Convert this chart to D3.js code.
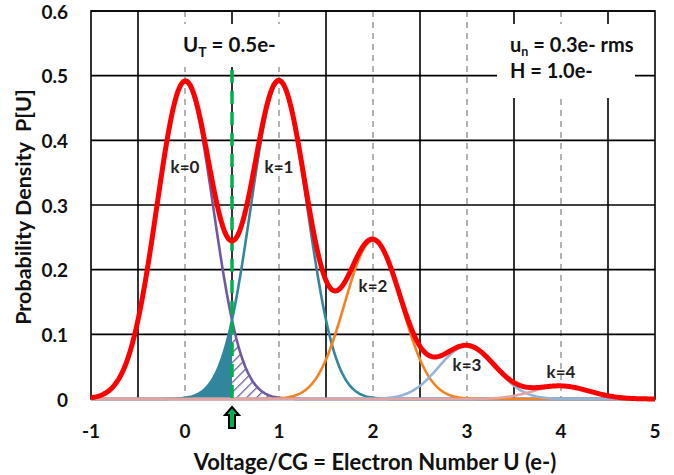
<!DOCTYPE html>
<html>
<head>
<meta charset="utf-8">
<script src="https://cdn.jsdelivr.net/npm/d3@7"></script>
<style>
  html, body { margin: 0; padding: 0; background: #fff; }
  svg { display: block; font-family: Lato, "Open Sans", sans-serif; }
</style>
</head>
<body>
<svg id="chart" width="674" height="475"></svg>
<script>
// Electron-number components k = 0..4: peak probability density of each
const components = ["k=0", "k=1", "k=2", "k=3", "k=4"];
const centers = [0, 1, 2, 3, 4];
const peakDensity = [0.49, 0.49, 0.245, 0.082, 0.02];
const componentColors = ["#6E5AA0", "#31869E", "#F5821F", "#95B3D7", "#E3A3A2"];
const readNoise = 0.3;      // u_n, e- rms
const threshold = 0.5;      // U_T, e-
const xTicks = [-1, 0, 1, 2, 3, 4, 5];
const yTicks = [0, 0.1, 0.2, 0.3, 0.4, 0.5, 0.6];
const xDomain = [-1, 5];
const yDomain = [0, 0.6];

const svg = d3.select("#chart");
const x = d3.scaleLinear().domain(xDomain).range([91, 655]);
const y = d3.scaleLinear().domain(yDomain).range([399, 11]);

// Gaussian read-noise peak around each integer electron number
const xs = d3.range(xDomain[0], xDomain[1] + 0.0001, 0.01);
const comp = (i, u) => peakDensity[i] * Math.exp(-0.5 * ((u - centers[i]) / readNoise) ** 2);
const series = peakDensity.map((_, i) => xs.map(u => [u, comp(i, u)]));
const total = xs.map(u => [u, d3.sum(peakDensity, (_, i) => comp(i, u))]);

const line = d3.line().x(d => x(d[0])).y(d => y(d[1]));
const area = d3.area().x(d => x(d[0])).y0(y(0)).y1(d => y(d[1]));

// hatch pattern for the k=0 tail beyond threshold
const defs = svg.append("defs");
const pat = defs.append("pattern").attr("id", "hatch").attr("patternUnits", "userSpaceOnUse")
  .attr("width", 7).attr("height", 7).attr("patternTransform", "rotate(45)");
pat.append("rect").attr("width", 7).attr("height", 7).attr("fill", "#fff");
pat.append("line").attr("x1", 0).attr("y1", 0).attr("x2", 0).attr("y2", 7)
  .attr("stroke", componentColors[0]).attr("stroke-width", 2.6);

// grid: solid lines at half-integers, dashed at integers
const g = svg.append("g");
d3.range(-0.5, 5, 1).forEach(v => {
  g.append("line").attr("x1", x(v)).attr("x2", x(v)).attr("y1", y(0.6)).attr("y2", y(0))
    .attr("stroke", "#000").attr("stroke-width", 1.6);
});
xTicks.slice(1, -1).forEach(v => {
  g.append("line").attr("x1", x(v)).attr("x2", x(v)).attr("y1", y(0.6)).attr("y2", y(0))
    .attr("stroke", "#8a8a8a").attr("stroke-width", 1.3).attr("stroke-dasharray", "6,5");
});
yTicks.slice(1).forEach(v => {
  g.append("line").attr("x1", x(-1)).attr("x2", x(5)).attr("y1", y(v)).attr("y2", y(v))
    .attr("stroke", "#000").attr("stroke-width", 1.6);
});
g.append("rect").attr("x", x(-1)).attr("y", y(0.6)).attr("width", x(5) - x(-1)).attr("height", y(0) - y(0.6))
  .attr("fill", "none").attr("stroke", "#000").attr("stroke-width", 1.6);

// white boxes behind annotations
svg.append("rect").attr("x", 168).attr("y", 24).attr("width", 140).attr("height", 43).attr("fill", "#fff");
svg.append("rect").attr("x", 497).attr("y", 24).attr("width", 138).attr("height", 74).attr("fill", "#fff");

// shaded error areas
svg.append("path").datum(series[1].filter(d => d[0] <= threshold + 1e-9))
  .attr("d", area).attr("fill", componentColors[1]);
svg.append("path").datum(series[0].filter(d => d[0] >= threshold - 1e-9 && d[0] <= 1.6))
  .attr("d", area).attr("fill", "url(#hatch)");

// baseline (higher-order components)
svg.append("line").attr("x1", x(-1)).attr("x2", x(5)).attr("y1", y(0)).attr("y2", y(0))
  .attr("stroke", "#95B3D7").attr("stroke-width", 3);

// component curves
series.forEach((s, i) => {
  svg.append("path").datum(s).attr("d", line).attr("fill", "none")
    .attr("stroke", componentColors[i]).attr("stroke-width", 2.6);
});

// threshold marker
svg.append("line").attr("x1", x(threshold)).attr("x2", x(threshold)).attr("y1", 70).attr("y2", y(0))
  .attr("stroke", "#00B050").attr("stroke-width", 3.5).attr("stroke-dasharray", "13,8");

// total density
svg.append("path").datum(total).attr("d", line).attr("fill", "none")
  .attr("stroke", "#FF0000").attr("stroke-width", 5).attr("stroke-linejoin", "round");

// component labels
const labelPos = [[0, 0.36], [1, 0.36], [2, 0.176], [3, 0.053], [4, 0.042]];
components.forEach((t, i) => {
  svg.append("text").attr("x", x(labelPos[i][0])).attr("y", y(labelPos[i][1]))
    .attr("text-anchor", "middle").attr("dominant-baseline", "central")
    .attr("font-size", 17).attr("font-weight", 700).attr("fill", "#222").text(t);
});

// annotations
const ut = svg.append("text").attr("x", 183).attr("y", 52).attr("font-size", 20.5).attr("font-weight", 700).attr("fill", "#111");
ut.append("tspan").text("U");
ut.append("tspan").attr("font-size", 14).attr("dy", 5).text("T");
ut.append("tspan").attr("dy", -5).text(" = 0.5e-");

const un = svg.append("text").attr("x", 510).attr("y", 52).attr("font-size", 20).attr("font-weight", 700).attr("fill", "#111");
un.append("tspan").text("u");
un.append("tspan").attr("font-size", 12.5).attr("dy", 3.5).text("n");
un.append("tspan").attr("dy", -3.5).text(" = 0.3e- rms");
svg.append("text").attr("x", 510).attr("y", 78).attr("font-size", 20).attr("font-weight", 700).attr("fill", "#111").text("H = 1.0e-");

// axes tick labels
svg.append("g").selectAll("text").data(yTicks).join("text")
  .attr("x", 68).attr("y", d => y(d)).attr("dominant-baseline", "central").attr("text-anchor", "end")
  .attr("font-size", 19).attr("font-weight", 700).attr("fill", "#111")
  .text(d => d3.format(".1~f")(d));
svg.append("g").selectAll("text").data(xTicks).join("text")
  .attr("x", d => x(d)).attr("y", 438).attr("text-anchor", "middle")
  .attr("font-size", 19).attr("font-weight", 700).attr("fill", "#111")
  .text(d => d);

// axis titles
svg.append("text").attr("transform", "translate(23,207) rotate(-90)").attr("text-anchor", "middle")
  .attr("dominant-baseline", "central").attr("font-size", 21.5).attr("font-weight", 700).attr("fill", "#111")
  .attr("xml:space", "preserve").text("Probability Density  P[U]");
svg.append("text").attr("x", 375).attr("y", 470).attr("text-anchor", "middle")
  .attr("font-size", 22).attr("font-weight", 700).attr("fill", "#111")
  .text("Voltage/CG = Electron Number U (e-)");

// threshold arrow below the axis
const ax = x(threshold);
const arrow = d3.path();
arrow.moveTo(ax, 407);
arrow.lineTo(ax + 7, 415);
arrow.lineTo(ax + 3, 415);
arrow.lineTo(ax + 3, 428);
arrow.lineTo(ax - 3, 428);
arrow.lineTo(ax - 3, 415);
arrow.lineTo(ax - 7, 415);
arrow.closePath();
svg.append("path").attr("d", arrow.toString()).attr("fill", "#00B050").attr("stroke", "#000").attr("stroke-width", 2);
</script>
</body>
</html>
